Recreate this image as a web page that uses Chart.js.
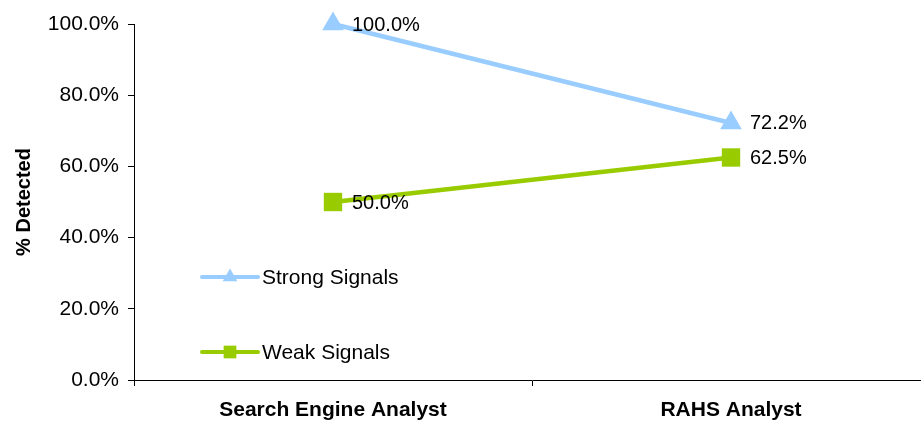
<!DOCTYPE html>
<html>
<head>
<meta charset="utf-8">
<script src="https://cdn.jsdelivr.net/npm/chart.js@4.4.1/dist/chart.umd.min.js"></script>
<style>
  html, body { margin: 0; padding: 0; background: #fff; overflow: hidden; }
  /* the plot area runs a little past the right edge of the window in the original */
  #wrap { width: 930px; height: 424px; position: relative; }
</style>
</head>
<body>
<div id="wrap"><canvas id="chart"></canvas></div>
<script>
// Chart data
const categories = ['Search Engine Analyst', 'RAHS Analyst'];
const strongSignals = [100.0, 72.2];
const weakSignals = [50.0, 62.5];
const yTicks = [0, 20, 40, 60, 80, 100];

const FONT = 'Arial, "Liberation Sans", sans-serif';

// Labels next to each point
const pointLabels = {
    id: 'pointLabels',
    afterDatasetsDraw(chart) {
        const ctx = chart.ctx;
        ctx.save();
        ctx.font = '20px ' + FONT;
        ctx.fillStyle = '#000';
        ctx.textAlign = 'left';
        ctx.textBaseline = 'middle';
        chart.data.datasets.forEach((ds, i) => {
            chart.getDatasetMeta(i).data.forEach((pt, j) => {
                ctx.fillText(ds.data[j].toFixed(1) + '%', pt.x + 19, pt.y + 1);
            });
        });
        ctx.restore();
    }
};

// Legend drawn inside the plot area, like the original
const insideLegend = {
    id: 'insideLegend',
    afterDraw(chart, args, opts) {
        const ctx = chart.ctx;
        const left = chart.chartArea.left + opts.offsetX;
        ctx.save();
        chart.data.datasets.forEach((ds, i) => {
            const y = opts.rows[i];
            ctx.strokeStyle = ds.borderColor;
            ctx.lineWidth = 4;
            ctx.lineCap = 'round';
            ctx.beginPath();
            ctx.moveTo(left, y);
            ctx.lineTo(left + 56, y);
            ctx.stroke();
            ctx.fillStyle = ds.pointBackgroundColor;
            Chart.helpers.drawPoint(ctx, {
                pointStyle: ds.pointStyle,
                radius: opts.markerRadius[i],
                rotation: 0,
                borderWidth: 0
            }, left + 28, y);
            ctx.fillStyle = '#000';
            ctx.font = '21px ' + FONT;
            ctx.textAlign = 'left';
            ctx.textBaseline = 'middle';
            ctx.fillText(ds.label, left + 60, y + 1);
        });
        ctx.restore();
    }
};

const ctx = document.getElementById('chart').getContext('2d');
const chart = new Chart(ctx, {
    type: 'line',
    data: {
        labels: categories,
        datasets: [
            {
                label: 'Strong Signals',
                data: strongSignals,
                borderColor: '#99CCFF',
                backgroundColor: '#99CCFF',
                pointBackgroundColor: '#99CCFF',
                pointBorderWidth: 0,
                borderWidth: 4.5,
                pointStyle: 'triangle',
                pointRadius: 12.5,
                tension: 0,
                clip: false
            },
            {
                label: 'Weak Signals',
                data: weakSignals,
                borderColor: '#99CC00',
                backgroundColor: '#99CC00',
                pointBackgroundColor: '#99CC00',
                pointBorderWidth: 0,
                borderWidth: 4.5,
                pointStyle: 'rect',
                pointRadius: 13,
                tension: 0,
                clip: false
            }
        ]
    },
    options: {
        responsive: true,
        maintainAspectRatio: false,
        animation: false,
        layout: {
            autoPadding: false,
            padding: { top: 24, right: 0, left: 0, bottom: 0 }
        },
        scales: {
            x: {
                offset: true,
                grid: {
                    offset: true,
                    drawOnChartArea: false,
                    drawTicks: true,
                    tickLength: 6,
                    color: '#000'
                },
                border: { color: '#000', width: 1 },
                ticks: {
                    color: '#000',
                    padding: 12,
                    maxRotation: 0,
                    font: { family: FONT, size: 21, weight: 'bold' }
                },
                afterFit(scale) {
                    scale.height = 44;
                    scale.paddingLeft = 0;
                    scale.paddingRight = 0;
                }
            },
            y: {
                min: 0,
                max: 100,
                afterBuildTicks(scale) {
                    scale.ticks = yTicks.map(v => ({ value: v }));
                },
                grid: {
                    drawOnChartArea: false,
                    drawTicks: true,
                    tickLength: 6,
                    color: '#000'
                },
                border: { color: '#000', width: 1 },
                ticks: {
                    color: '#000',
                    padding: 9,
                    font: { family: FONT, size: 21 },
                    callback: v => v.toFixed(1) + '%'
                },
                title: {
                    display: true,
                    text: '% Detected',
                    color: '#000',
                    padding: { top: 12, bottom: 4 },
                    font: { family: FONT, size: 20, weight: 'bold' }
                },
                afterFit(scale) {
                    scale.width = 134;
                    scale.paddingTop = 0;
                    scale.paddingBottom = 0;
                }
            }
        },
        plugins: {
            legend: { display: false },
            tooltip: { enabled: false },
            insideLegend: {
                offsetX: 68,
                rows: [277, 352],
                markerRadius: [8.5, 9]
            }
        }
    },
    plugins: [pointLabels, insideLegend]
});
</script>
</body>
</html>
